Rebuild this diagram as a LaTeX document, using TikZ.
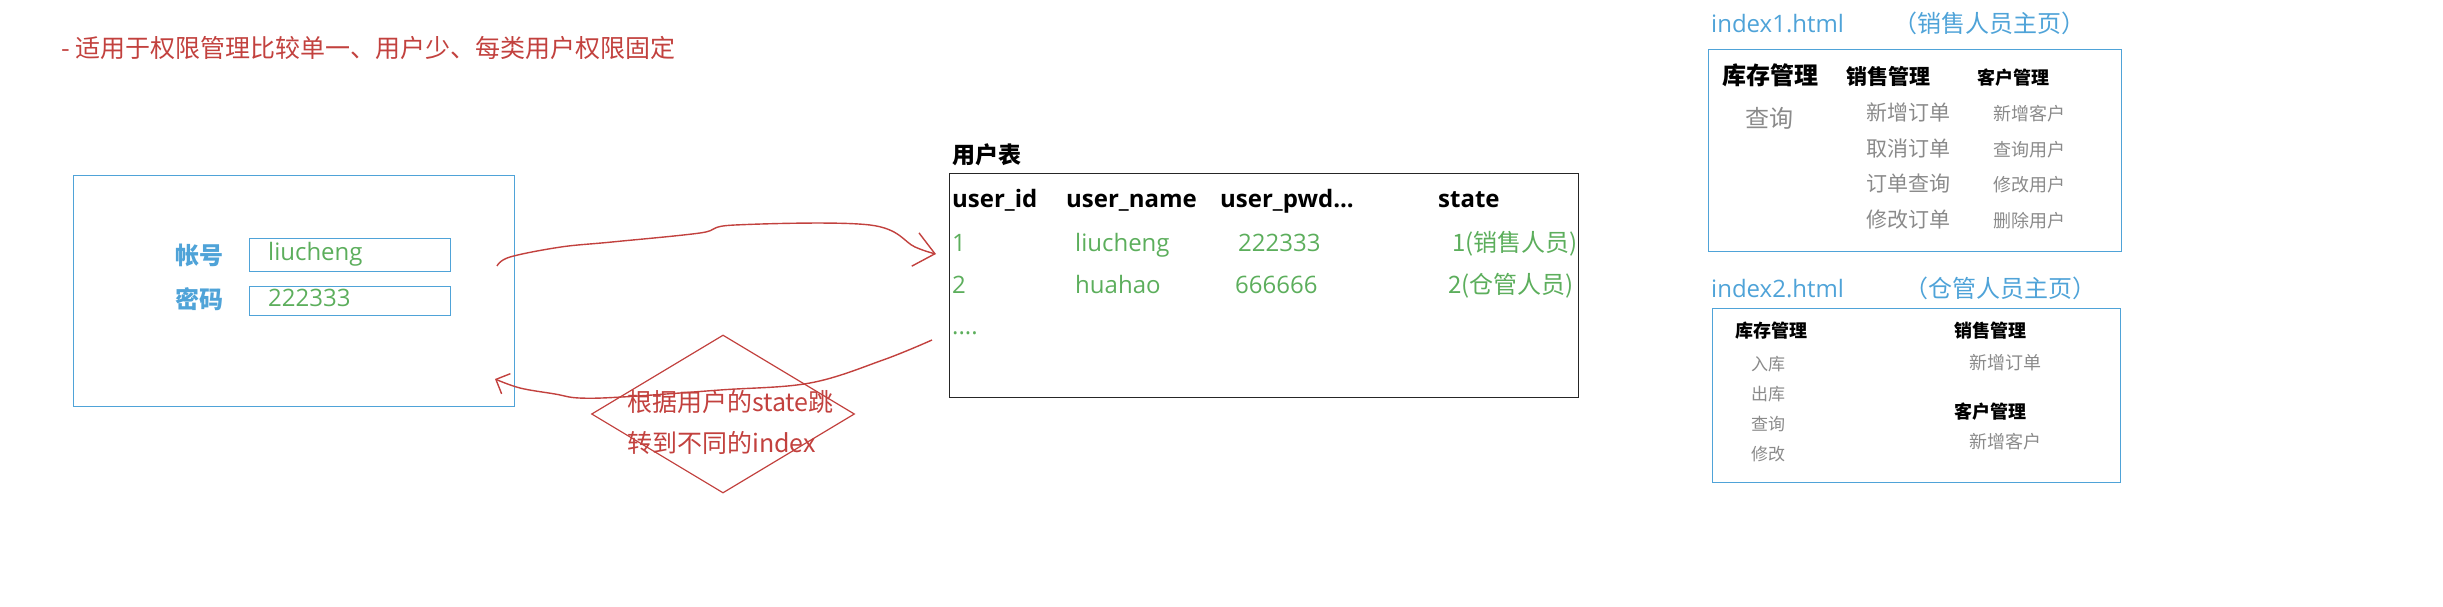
\documentclass[tikz,border=0pt]{standalone}
\usepackage{fontspec}
\setmainfont{Open Sans}
\newfontfamily\cjk{Noto Sans CJK SC}
\usepackage{xcolor}
\usepackage{tikz}
\usetikzlibrary{shapes.geometric, arrows.meta, positioning}

\definecolor{noteRed}{HTML}{C2413E}
\definecolor{pageBlue}{HTML}{4FA3D8}
\definecolor{dataGreen}{HTML}{5CAE5C}
\definecolor{itemGray}{HTML}{8A8A8A}
\newcommand{\fsz}[1]{\fontsize{#1}{#1}\selectfont}

\begin{document}
\begin{tikzpicture}[x=1pt, y=-1pt,
  txt/.style={inner sep=0pt, anchor=west, text height=1em, text depth=0pt},
  note/.style={txt, text=noteRed, font=\cjk\fsz{25}},
  fieldlbl/.style={txt, text=pageBlue, font=\cjk\bfseries\fsz{24}},
  field/.style={draw=pageBlue, line width=1.2pt, anchor=north west, minimum width=201pt, minimum height=33pt, inner sep=0pt},
  fieldval/.style={txt, text=dataGreen, font=\fsz{24}},
  head/.style={txt, font=\bfseries\fsz{24}},
  cell/.style={txt, text=dataGreen, font=\fsz{24}},
  pagebox/.style={draw=pageBlue, line width=1.3pt, anchor=north west, inner sep=0pt},
  pagetitle/.style={txt, text=pageBlue, font=\fsz{24}},
  menu/.style={txt, font=\cjk\bfseries\fsz{#1}},
  entry/.style={txt, text=itemGray, font=\cjk\fsz{#1}},
  flow/.style={draw=noteRed, line width=1.4pt}]
\useasboundingbox (0,0) rectangle (2443,607);

% note
\node (scope) [note] at (61,53) {- 适用于权限管理比较单一、用户少、每类用户权限固定};

% login page
\node (login) [pagebox, minimum width=441pt, minimum height=231pt] at (73,175) {};
\node (acct) [field] at (249,238) {};
\node (pwd) [field, minimum height=29pt] at (249,286) {};
\node (acctval) [fieldval, right=19pt of acct.west] {liucheng};
\node (pwdval) [fieldval, right=19pt of pwd.west] {222333};
\node (acctlbl) [fieldlbl, anchor=east, left=25pt of acct.west, yshift=-4pt] {帐号};
\node (pwdlbl) [fieldlbl, anchor=east, left=25pt of pwd.west, yshift=-2pt] {密码};

% user table
\node (tbltitle) [txt, font=\cjk\bfseries\fsz{23}] at (952,158) {用户表};
\node (usertbl) [draw=black!85, line width=1.4pt, anchor=north west, minimum width=629pt, minimum height=224pt, inner sep=0pt] at (949,173) {};
\node (hid) [head] at (952,202) {user\_id};
\node (hname) [head] at (1066,202) {user\_name};
\node (hpwd) [head] at (1220,202) {user\_pwd...};
\node (hstate) [head] at (1438,202) {state};
\node (id1) [cell] at (952,246) {1};
\node (name1) [cell] at (1075,246) {liucheng};
\node (pwd1) [cell] at (1238,246) {222333};
\node (state1) [cell, font=\cjk\fsz{24}] at (1452,246) {1(销售人员)};
\node (id2) [cell] at (952,288) {2};
\node (name2) [cell] at (1075,288) {huahao};
\node (pwd2) [cell] at (1235,288) {666666};
\node (state2) [cell, font=\cjk\fsz{24}] at (1448,288) {2(仓管人员)};
\node (more) [cell] at (952,329) {....};

% decision
\node (jump) [diamond, draw=noteRed, line width=1.2pt, minimum width=263pt, minimum height=158pt, inner sep=0pt] at (723,414) {};
\node (jumptxt) [align=left, anchor=west, inner sep=0pt, text=noteRed, font=\cjk\fontsize{25}{41}\selectfont] at (627,422) {根据用户的state跳\\转到不同的index};

% flows
\coordinate (loginout) at (497,266);
\coordinate (tblin) at (936,254);
\coordinate (tblout) at (932,340);
\coordinate (loginin) at (495,379);
\draw[flow, -{Straight Barb[length=20pt,width=34pt]}] plot[smooth, tension=0.6] coordinates {(loginout) (510,257) (561,247) (612,242) (700,233) (735,225) (870,225) (915,247) (tblin)};
\draw[flow, -{Straight Barb[length=11pt,width=22pt]}] plot[smooth, tension=0.6] coordinates {(tblout) (883,360) (810,383) (720,390) (622,397) (579,398) (555,394) (520,388) (loginin)};

% index1.html
\node (idx1name) [pagetitle] at (1711,28) {index1.html};
\node (idx1role) [pagetitle, font=\cjk\fsz{24}] at (1893,28) {（销售人员主页）};
\node (idx1) [pagebox, minimum width=413pt, minimum height=202pt] at (1708,49) {};
\node (stock1) [menu=24] at (1722,80) {库存管理};
\node (query1) [entry=24] at (1745,123) {查询};
\node (sales1) [menu=21] at (1846,80) {销售管理};
\node (cust1) [menu=18] at (1977,80) {客户管理};
\foreach \t [count=\i] in {新增订单,取消订单,订单查询,修改订单}
  \node (salesitem\i) [entry=21] at (1866,80+35.5*\i) {\t};
\foreach \t [count=\i] in {新增客户,查询用户,修改用户,删除用户}
  \node (custitem\i) [entry=18] at (1993,80+35.5*\i) {\t};

% index2.html
\node (idx2name) [pagetitle] at (1711,292) {index2.html};
\node (idx2role) [pagetitle, font=\cjk\fsz{24}] at (1904,292) {（仓管人员主页）};
\node (idx2) [pagebox, minimum width=408pt, minimum height=174pt] at (1712,308) {};
\node (stock2) [menu=18] at (1735,332) {库存管理};
\foreach \t [count=\i] in {入库,出库,查询,修改}
  \node (stockitem\i) [entry=17] at (1751,335+30*\i) {\t};
\node (sales2) [menu=18] at (1954,332) {销售管理};
\node (salesitem) [entry=18] at (1969,364) {新增订单};
\node (cust2) [menu=18] at (1954,413) {客户管理};
\node (custitem) [entry=18] at (1969,443) {新增客户};
\end{tikzpicture}
\end{document}
